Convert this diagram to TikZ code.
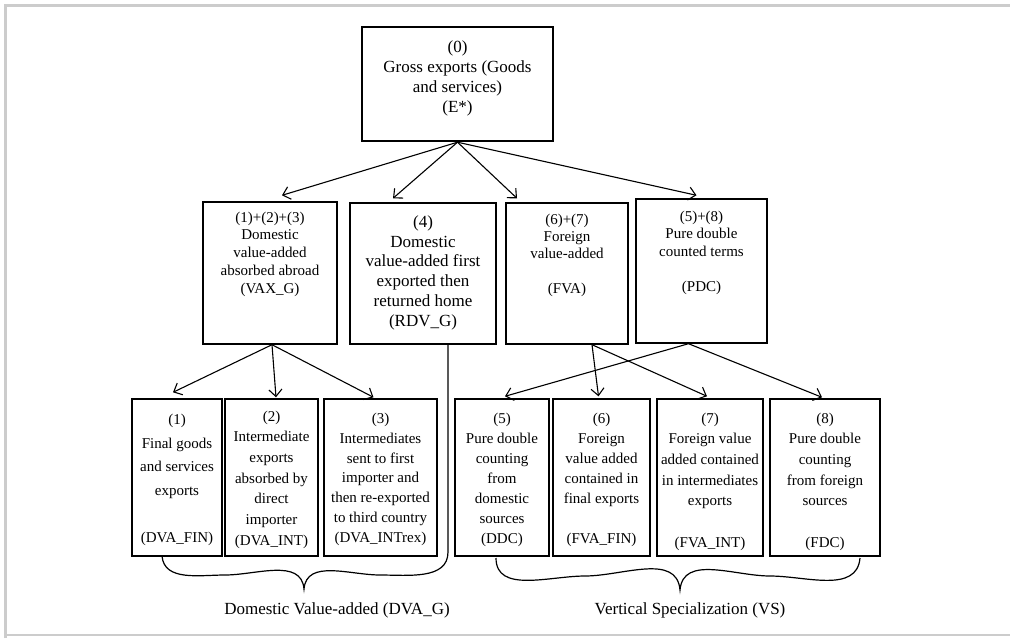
\documentclass[tikz,border=0pt]{standalone}
\usepackage{fontspec}
\setmainfont{Liberation Serif}
\usetikzlibrary{arrows.meta,fit}

\tikzset{
  vabox/.style={draw, line width=1.4pt, inner sep=0pt},
  vatext/.style={anchor=base, align=center, inner sep=0pt},
  vaarrow/.style={-{Straight Barb[length=7pt,width=13pt]}, line width=1.1pt},
  vabrace/.style={line width=1.2pt},
  vaframe/.style={draw=gray!40},
}

% box from two corners, offset of the last baseline from the top
\NewDocumentCommand{\vabox}{O{}mmmmO{15}O{20}m}{%
\node[vabox, #1, fit={(#3) (#4)}] (#2) {};%
\node[vatext, font=\fontsize{#6}{#7}\selectfont] (#2t) at ([yshift=-#5pt]#2.north) {#8};%
}

\begin{document}
\begin{tikzpicture}[x=1pt,y=-1pt]
        \useasboundingbox (0,0) rectangle (1010,638);
        \draw[vaframe, line width=3pt] (5,638) -- (5,5) -- (1010,5);
        \draw[vaframe, line width=1.5pt] (5,635) -- (1010,635);

        \vabox[line width=2.4pt]{gross}{362,27}{553,141}{87}[17][20]{(0)\\Gross exports (Goods\\and services)\\(E*)}

        \vabox{vax}{203,202}{337,344}{92}[15][17.8]{(1)+(2)+(3)\\Domestic\\value-added\\absorbed abroad\\(VAX\_G)}
        \vabox{rdv}{350,203}{496,344}{124}[17][19.8]{(4)\\Domestic\\value-added first\\exported then\\returned home\\(RDV\_G)}
        \vabox{fva}{506,203}{628,344}{91}[15][17.3]{(6)+(7)\\Foreign\\value-added\\ \\(FVA)}
        \vabox{pdc}{636,199}{767,343}{93}[15][17.5]{(5)+(8)\\Pure double\\counted terms\\ \\(PDC)}

        \vabox{fin}{132,399}{222,556}{144}[15][23.5]{(1)\\Final goods\\and services\\exports\\ \\(DVA\_FIN)}
        \vabox{int}{225,399}{318,556}{147}[15][20.7]{(2)\\Intermediate\\exports\\absorbed by\\direct\\importer\\(DVA\_INT)}
        \vabox{intrex}{324,399}{437,556}{144}[15][19.8]{(3)\\Intermediates\\sent to first\\importer and\\then re-exported\\to third country\\(DVA\_INTrex)}
        \vabox{ddc}{455,399}{549,556}{145}[15][20]{(5)\\Pure double\\counting\\from\\domestic\\sources\\(DDC)}
        \vabox{fvafin}{553,399}{650,556}{145}[15][20]{(6)\\Foreign\\value added\\contained in\\final exports\\ \\(FVA\_FIN)}
        \vabox{fvaint}{657,399}{763,556}{149}[15][20.7]{(7)\\Foreign value\\added contained\\in intermediates\\exports\\ \\(FVA\_INT)}
        \vabox{fdc}{770,399}{880,556}{149}[15][20.7]{(8)\\Pure double\\counting\\from foreign\\sources\\ \\(FDC)}

        % First split.
        \draw[vaarrow] (gross.south) -- ([xshift=12pt,yshift=6pt]vax.north);
        \draw[vaarrow] (gross.south) -- ([xshift=-30pt,yshift=4pt]rdv.north);
        \draw[vaarrow] (gross.south) -- ([xshift=-50pt,yshift=4pt]fva.north);
        \draw[vaarrow] (gross.south) -- ([xshift=-5pt,yshift=3pt]pdc.north);
        % Domestic part.
        \draw[vaarrow] ([xshift=2pt]vax.south) -- ([xshift=-4pt,yshift=6pt]fin.north);
        \draw[vaarrow] ([xshift=2pt]vax.south) -- ([xshift=4.5pt,yshift=1pt]int.north);
        \draw[vaarrow] ([xshift=2pt]vax.south) -- ([xshift=-7pt,yshift=1pt]intrex.north);
        % Foreign part.
        \draw[vaarrow] ([xshift=-13pt]pdc.south) -- ([xshift=3pt,yshift=2pt]ddc.north);
        \draw[vaarrow] ([xshift=-13pt]pdc.south) -- ([xshift=-3pt,yshift=1pt]fdc.north);
        \draw[vaarrow] ([xshift=25pt]fva.south) -- ([xshift=-3pt,yshift=2pt]fvafin.north);
        \draw[vaarrow] ([xshift=25pt]fva.south) -- ([xshift=-3pt,yshift=2pt]fvaint.north);

        % Braces.
        \draw[vabrace] ([xshift=25pt]rdv.south) -- (448,552) to[out=-90,in=0] (380,575)
            to[out=180,in=85] (304,589) to[out=95,in=0] (225,575) to[out=180,in=-85] (162,556);
        \draw[vabrace] (496,558) to[out=-90,in=180] (585,576) to[out=0,in=95] (680,590)
            to[out=85,in=180] (770,576) to[out=0,in=-95] (860,558);
        \node[anchor=base, font=\fontsize{17}{20}\selectfont] (dvag) at (337,614) {Domestic Value-added (DVA\_G)};
        \node[anchor=base, font=\fontsize{17}{20}\selectfont] (vs) at (690,614) {Vertical Specialization (VS)};
    \end{tikzpicture}
\end{document}
